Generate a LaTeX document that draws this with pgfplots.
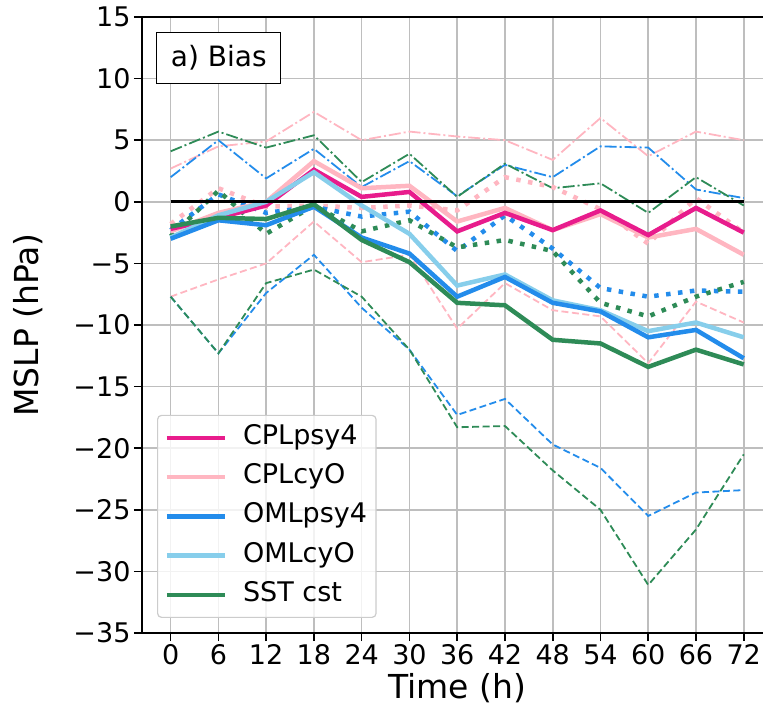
\documentclass[border=0pt]{standalone}
\usepackage{fontspec}
\setmainfont{DejaVu Sans}
\usepackage{pgfplots}
\usepackage{pgfplotstable}
\pgfplotsset{compat=1.18}
\definecolor{cplpsy}{RGB}{232,28,140}
\definecolor{cplcyo}{RGB}{255,182,193}
\definecolor{omlpsy}{RGB}{35,140,235}
\definecolor{omlcyo}{RGB}{135,206,235}
\definecolor{sst}{RGB}{46,139,87}
\definecolor{gridc}{RGB}{190,190,190}
\definecolor{legframe}{RGB}{204,204,204}

% solid lines
\pgfplotstableread{
t cplpsy cplcyo omlpsy omlcyo sst
0  -2.2 -2.4 -3.0 -2.9 -2.0
6  -1.3 -0.9 -1.5 -1.1 -1.3
12 -0.3  0.0 -1.9  0.0 -1.4
18  2.6  3.3 -0.4  2.4 -0.2
24  0.4  1.1 -2.9 -0.3 -3.1
30  0.8  1.3 -4.2 -2.6 -4.9
36 -2.4 -1.6 -7.7 -6.8 -8.2
42 -0.9 -0.5 -6.1 -5.9 -8.4
48 -2.3 -2.3 -8.2 -8.0 -11.2
54 -0.7 -1.0 -8.9 -8.8 -11.5
60 -2.7 -2.9 -11.0 -10.5 -13.4
66 -0.5 -2.2 -10.4 -9.8 -12.0
72 -2.5 -4.3 -12.7 -11.0 -13.2
}\meanT

% dotted lines
\pgfplotstableread{
t cplcyo omlpsy sst
0  -1.8 -2.3 -2.8
6   1.1  0.6  0.9
12 -0.4 -0.9 -2.6
18 -0.3 -0.4 -0.3
24 -0.5 -1.2 -2.4
30 -0.3 -0.8 -1.5
36 -0.7 -4.0 -3.7
42  2.0 -1.1 -3.1
48  1.2 -3.8 -4.0
54 -0.6 -7.0 -8.2
60 -3.4 -7.7 -9.3
66  0.3 -7.2 -7.7
72 -2.5 -7.3 -6.5
}\dotT

% dashed lines (minimum)
\pgfplotstableread{
t cplcyo omlpsy sst
0  -7.7 -7.7 -7.7
6  -6.3 -12.3 -12.3
12 -5.0 -7.4 -6.6
18 -1.6 -4.3 -5.5
24 -4.9 -8.6 -7.7
30 -4.3 -12.0 -12.0
36 -10.3 -17.3 -18.3
42 -6.6 -16.0 -18.2
48 -8.8 -19.7 -21.8
54 -9.3 -21.6 -25.0
60 -13.1 -25.5 -31.1
66 -8.1 -23.6 -26.6
72 -9.8 -23.4 -20.5
}\minT

% dash-dotted lines (maximum)
\pgfplotstableread{
t cplcyo omlpsy sst
0  2.7 2.0 4.1
6  4.5 5.0 5.7
12 4.9 1.9 4.4
18 7.3 4.3 5.4
24 5.0 1.2 1.6
30 5.7 3.3 3.9
36 5.3 0.45 0.4
42 5.0 3.0 3.1
48 3.4 2.0 1.1
54 6.8 4.5 1.5
60 3.7 4.4 -0.9
66 5.7 1.0 2.0
72 5.0 0.3 -0.3
}\maxT

\begin{document}
\begin{tikzpicture}
\begin{axis}[
  at={(0,0)}, anchor=north west,
  scale only axis, width=630.4pt, height=616pt,
  xmin=-3.6, xmax=75.6, ymin=-35, ymax=15,
  xtick={0,6,12,18,24,30,36,42,48,54,60,66,72},
  xticklabels={0,6,12,18,24,30,36,42,48,54,60,66,72},
  ytick={-35,-30,-25,-20,-15,-10,-5,0,5,10,15},
  yticklabels={−35,−30,−25,−20,−15,−10,−5,0,5,10,15},
  tick pos=left, tick align=outside, major tick length=8pt,
  tick style={line width=1.6pt, black},
  axis line style={line width=1.6pt, black},
  grid=major, grid style={line width=1.6pt, gridc},
  tick label style={font=\fontsize{27}{32}\selectfont},
  xlabel={Time (h)}, ylabel={MSLP (hPa)},
  label style={font=\fontsize{33}{40}\selectfont},
  xlabel style={at={(axis description cs:0.5,-0.089)}, anchor=center},
  ylabel style={at={(axis description cs:-0.18,0.5)}, anchor=center, rotate=0},
  legend style={at={(axis description cs:0.0238,0.0244)}, anchor=south west,
    draw=legframe, line width=1.2pt, rounded corners=4pt,
    fill=white, fill opacity=0.8, text opacity=1,
    font=\fontsize{27}{32}\selectfont, inner sep=7pt, row sep=8.25pt, column sep=14pt,
    nodes={inner sep=2pt, text height=20pt, text depth=7pt}},
  legend cell align=left,
  legend image code/.code={\draw[#1] (0pt,0pt) -- (58pt,0pt);},
  no markers,
]
\addlegendimage{cplpsy, line width=4.5pt}
\addlegendentry{CPLpsy4}
\addlegendimage{cplcyo, line width=4.5pt}
\addlegendentry{CPLcyO}
\addlegendimage{omlpsy, line width=4.5pt}
\addlegendentry{OMLpsy4}
\addlegendimage{omlcyo, line width=4.5pt}
\addlegendentry{OMLcyO}
\addlegendimage{sst, line width=4.5pt}
\addlegendentry{SST cst}

% dash-dot (max)
\addplot[cplcyo, line width=1.8pt, dash pattern=on 12pt off 3pt on 2pt off 3pt, forget plot] table[x=t,y=cplcyo] {\maxT};
\addplot[omlpsy, line width=1.8pt, dash pattern=on 12pt off 3pt on 2pt off 3pt, forget plot] table[x=t,y=omlpsy] {\maxT};
\addplot[sst, line width=1.8pt, dash pattern=on 12pt off 3pt on 2pt off 3pt, forget plot] table[x=t,y=sst] {\maxT};
% dashed (min)
\addplot[cplcyo, line width=1.8pt, dash pattern=on 7pt off 3.5pt, forget plot] table[x=t,y=cplcyo] {\minT};
\addplot[omlpsy, line width=1.8pt, dash pattern=on 7pt off 3.5pt, forget plot] table[x=t,y=omlpsy] {\minT};
\addplot[sst, line width=1.8pt, dash pattern=on 7pt off 3.5pt, forget plot] table[x=t,y=sst] {\minT};
% dotted
\addplot[cplcyo, line width=4.5pt, line cap=butt, dash pattern=on 4.5pt off 7.5pt, forget plot] table[x=t,y=cplcyo] {\dotT};
\addplot[omlpsy, line width=4.5pt, line cap=butt, dash pattern=on 4.5pt off 7.5pt, forget plot] table[x=t,y=omlpsy] {\dotT};
\addplot[sst, line width=4.5pt, line cap=butt, dash pattern=on 4.5pt off 7.5pt, forget plot] table[x=t,y=sst] {\dotT};
% solid
\addplot[cplcyo, line width=4.5pt, forget plot] table[x=t,y=cplcyo] {\meanT};
\addplot[cplpsy, line width=4.5pt, forget plot] table[x=t,y=cplpsy] {\meanT};
\addplot[omlcyo, line width=4.5pt, forget plot] table[x=t,y=omlcyo] {\meanT};
\addplot[omlpsy, line width=4.5pt, forget plot] table[x=t,y=omlpsy] {\meanT};
\addplot[sst, line width=4.5pt, forget plot] table[x=t,y=sst] {\meanT};
% zero line
\addplot[black, line width=3pt, forget plot] coordinates {(0,0) (72,0)};

\node[draw=black, line width=1.5pt, fill=white, anchor=north west, inner sep=0pt,
  minimum width=124pt, minimum height=51pt, font=\fontsize{28}{34}\selectfont]
  at (rel axis cs:0.0222,0.9761) {a) Bias};
\end{axis}
\pgfresetboundingbox
\path[use as bounding box] (-142pt,17pt) rectangle (621pt,-698pt);
\end{tikzpicture}
\end{document}
